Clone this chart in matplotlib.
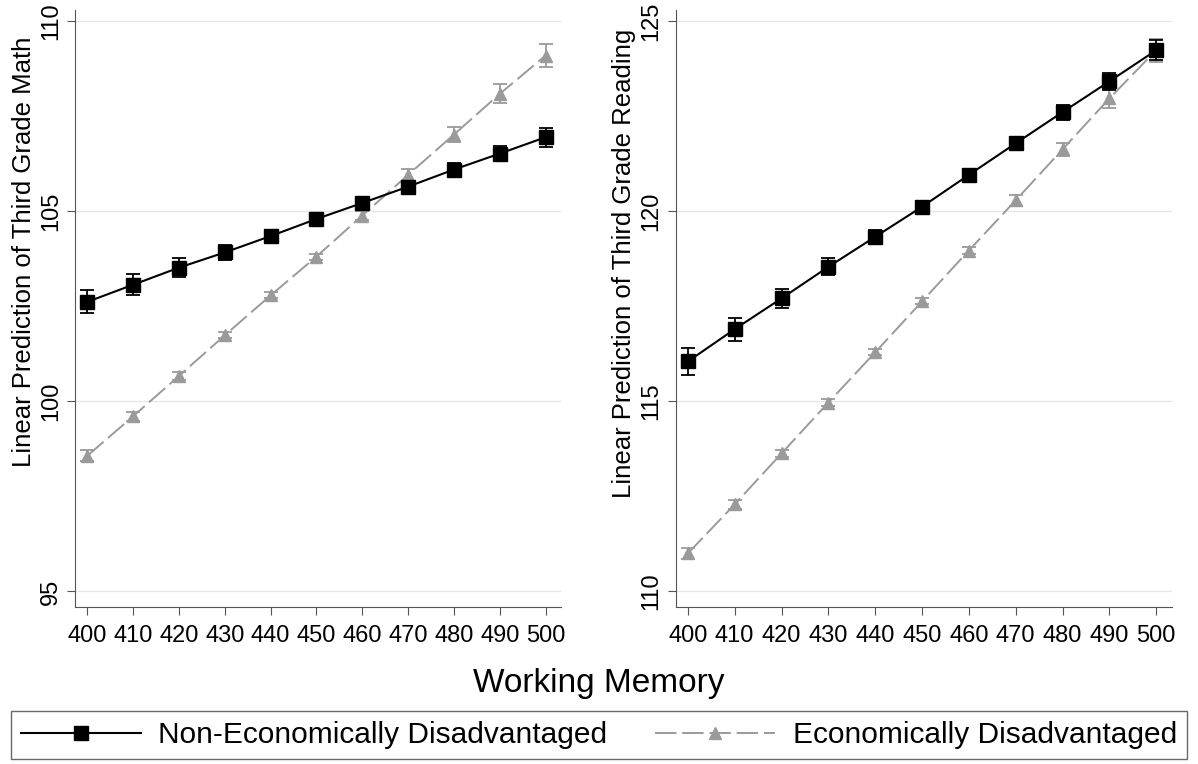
import numpy as np
import matplotlib.pyplot as plt
from matplotlib.lines import Line2D

plt.rcParams['font.family'] = ['Liberation Sans', 'DejaVu Sans']

memory = [400, 410, 420, 430, 440, 450, 460, 470, 480, 490, 500]

math_non = [102.62, 103.07, 103.52, 103.92, 104.35, 104.80, 105.22, 105.65, 106.10, 106.52, 106.95]
math_non_err = [0.30, 0.27, 0.24, 0.20, 0.15, 0.12, 0.12, 0.13, 0.17, 0.20, 0.25]
math_eco = [98.57, 99.61, 100.67, 101.74, 102.79, 103.81, 104.89, 105.96, 107.02, 108.09, 109.10]
math_eco_err = [0.15, 0.12, 0.10, 0.08, 0.08, 0.08, 0.12, 0.15, 0.20, 0.25, 0.30]

read_non = [116.05, 116.90, 117.71, 118.54, 119.33, 120.12, 120.96, 121.79, 122.61, 123.42, 124.24]
read_non_err = [0.35, 0.30, 0.25, 0.22, 0.18, 0.15, 0.15, 0.17, 0.20, 0.23, 0.27]
read_eco = [111.00, 112.29, 113.63, 114.97, 116.29, 117.63, 118.97, 120.29, 121.63, 122.97, 124.24]
read_eco_err = [0.15, 0.12, 0.10, 0.08, 0.08, 0.08, 0.10, 0.14, 0.18, 0.24, 0.30]

grey = '#9a9a9a'
dash = (0, (11, 3))

fig = plt.figure(figsize=(11.98, 7.64), dpi=100)
ax1 = fig.add_axes([0.063, 0.206, 0.405, 0.781])
ax2 = fig.add_axes([0.564, 0.206, 0.414, 0.781])

panels = [
    (ax1, math_non, math_non_err, math_eco, math_eco_err,
     'Linear Prediction of Third Grade Math', [95, 100, 105, 110], (94.6, 110.3), 0.595),
    (ax2, read_non, read_non_err, read_eco, read_eco_err,
     'Linear Prediction of Third Grade Reading', [110, 115, 120, 125], (109.6, 125.3), 0.575),
]

for ax, non, non_err, eco, eco_err, ylabel, yticks, ylim, label_y in panels:
    ax.errorbar(memory, eco, yerr=eco_err, color=grey, linestyle=dash, lw=1.4,
                marker='^', markersize=8, capsize=5, elinewidth=1.3, capthick=1.3, zorder=2)
    ax.errorbar(memory, non, yerr=non_err, color='black', linestyle='-', lw=1.5,
                marker='s', markersize=10.5, capsize=5, elinewidth=1.3, capthick=1.3, zorder=3)
    ax.set_xlim(397.4, 503.3)
    ax.set_ylim(*ylim)
    ax.set_xticks(memory)
    ax.set_yticks(yticks)
    ax.set_yticklabels([str(t) for t in yticks], rotation=90, va='center')
    ax.yaxis.grid(True, color='#e6e6e6', lw=0.9)
    ax.set_axisbelow(True)
    ax.spines['top'].set_visible(False)
    ax.spines['right'].set_visible(False)
    ax.spines['left'].set_color('#555555')
    ax.spines['bottom'].set_color('#555555')
    ax.tick_params(labelsize=17, color='#555555', length=6)
    ax.tick_params(axis='x', pad=7)
    ax.set_ylabel(ylabel, fontsize=18.5, labelpad=3)
    ax.yaxis.label.set_y(label_y)

fig.text(0.5, 0.106, 'Working Memory', ha='center', va='center', fontsize=24)

handles = [
    Line2D([], [], color='black', lw=1.5, marker='s', markersize=10),
    Line2D([], [], color=grey, lw=1.4, linestyle=dash, marker='^', markersize=8),
]
leg = fig.legend(handles, ['Non-Economically Disadvantaged', 'Economically Disadvantaged'],
                 loc='center', bbox_to_anchor=(0.5, 0.038), ncol=2, fontsize=21.5,
                 frameon=True, fancybox=False, edgecolor='#444444', handlelength=4.0,
                 handletextpad=0.6, columnspacing=1.6, borderpad=0.35, borderaxespad=0)
leg.get_frame().set_linewidth(1.0)

fig.savefig('out.png', dpi=100)
